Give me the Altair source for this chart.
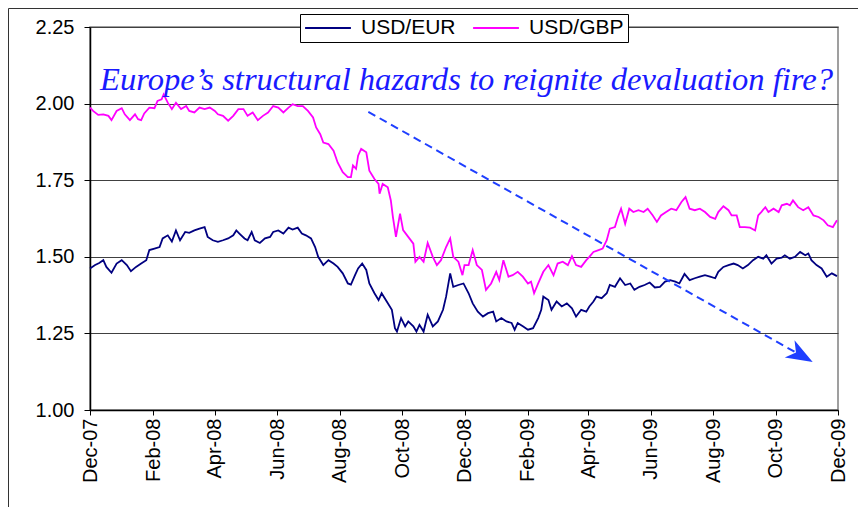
import altair as alt
import pandas as pd

# ---- data (days after 1 Dec 2007, rate) ----
eur_days = [0, 5, 9, 13, 16, 21, 26, 31, 36, 40, 45, 50, 55, 58, 63, 68, 71, 76, 80, 84, 88, 93, 97, 102, 107, 112, 115, 120,
            125, 130, 135, 140, 143, 146, 151, 154, 158, 161, 166, 171, 176, 179, 184, 189, 194, 198, 203, 207, 211, 216, 220, 223, 228, 233, 238, 242,
            247, 252, 255, 259, 262, 266, 270, 273, 278, 282, 285, 290, 295, 298, 300, 304, 308, 311, 316, 319, 322, 326, 330, 335, 340, 345, 348, 352, 355, 360, 365,
            370, 374, 379, 384, 389, 394, 397, 402, 407, 412, 415, 418, 423, 428, 433, 438, 441, 443, 448, 451, 456, 461, 466, 471, 475, 480, 485, 488,
            492, 495, 500, 505, 508, 513, 518, 523, 528, 532, 537, 542, 547, 552, 557, 562, 567, 572, 576, 581, 586, 591, 596, 601, 606, 611,
            614, 619, 624, 629, 633, 638, 643, 648, 653, 658, 661, 666, 671, 676, 679, 684, 689, 694, 699, 702, 705, 710, 715, 720, 725, 730]
eur_vals = [1.462, 1.473, 1.480, 1.489, 1.467, 1.448, 1.478, 1.489, 1.473, 1.453, 1.467, 1.478, 1.489, 1.522, 1.527, 1.532, 1.560, 1.570, 1.550, 1.586, 1.554, 1.581, 1.578, 1.586, 1.592, 1.597, 1.565, 1.554,
            1.549, 1.554, 1.560, 1.570, 1.586, 1.576, 1.560, 1.554, 1.581, 1.554, 1.545, 1.560, 1.565, 1.581, 1.586, 1.576, 1.595, 1.589, 1.595, 1.576, 1.570, 1.560, 1.532, 1.500, 1.473, 1.489, 1.478, 1.467,
            1.446, 1.413, 1.409, 1.440, 1.462, 1.478, 1.457, 1.413, 1.381, 1.359, 1.381, 1.354, 1.327, 1.267, 1.256, 1.300, 1.273, 1.289, 1.273, 1.256, 1.278, 1.256, 1.311, 1.273, 1.289, 1.327, 1.370, 1.446, 1.402, 1.408, 1.413,
            1.381, 1.348, 1.321, 1.305, 1.316, 1.321, 1.289, 1.300, 1.289, 1.284, 1.262, 1.284, 1.273, 1.262, 1.267, 1.300, 1.327, 1.370, 1.359, 1.327, 1.354, 1.338, 1.348, 1.332, 1.305, 1.327, 1.321, 1.338,
            1.354, 1.370, 1.365, 1.381, 1.408, 1.402, 1.430, 1.408, 1.413, 1.392, 1.402, 1.408, 1.416, 1.400, 1.402, 1.419, 1.424, 1.419, 1.413, 1.444, 1.424, 1.430, 1.435, 1.440, 1.435, 1.430,
            1.451, 1.467, 1.473, 1.478, 1.473, 1.462, 1.473, 1.489, 1.500, 1.494, 1.505, 1.478, 1.494, 1.497, 1.505, 1.494, 1.500, 1.516, 1.505, 1.511, 1.489, 1.473, 1.462, 1.435, 1.446, 1.437]

gbp_days = [0, 3, 8, 13, 18, 21, 26, 31, 34, 39, 44, 47, 50, 53, 58, 63, 66, 70, 72, 76, 80, 84, 89, 94, 97, 102, 107, 112, 117, 122,
            125, 130, 135, 140, 145, 150, 154, 159, 164, 169, 174, 179, 184, 189, 194, 198, 203, 208, 213, 218, 221, 225, 228, 233, 238, 242,
            247, 252, 255, 257, 260, 262, 265, 270, 273, 278, 282, 283, 286, 291, 294, 296, 299, 303, 306, 311, 316, 318, 322, 326, 330, 335, 339, 343, 348, 352, 355, 360, 364, 366,
            370, 374, 378, 383, 387, 392, 397, 400, 404, 409, 413, 418, 423, 428, 431, 434, 438, 443, 448, 453, 457, 462, 467, 471, 475, 480, 485, 488,
            492, 497, 501, 505, 508, 513, 516, 519, 523, 527, 531, 536, 541, 545, 550, 554, 558, 563, 568, 573, 578, 582, 586, 591, 596, 601, 606, 611,
            614, 619, 624, 627, 632, 635, 640, 645, 650, 653, 656, 660, 663, 668, 673, 676, 681, 684, 687, 692, 697, 702, 707, 712, 717, 721, 726, 730]
gbp_vals = [1.987, 1.976, 1.963, 1.965, 1.960, 1.946, 1.976, 1.985, 1.965, 1.946, 1.965, 1.949, 1.946, 1.968, 1.987, 1.985, 2.009, 2.014, 2.030, 2.003, 1.982, 2.003, 1.982, 1.992, 1.976, 1.971, 1.987, 1.982, 1.987, 1.976,
            1.965, 1.960, 1.944, 1.960, 1.982, 1.982, 1.960, 1.971, 1.946, 1.960, 1.971, 1.992, 1.987, 1.971, 1.987, 1.998, 1.992, 1.992, 1.976, 1.955, 1.922, 1.900, 1.873, 1.868, 1.846, 1.808,
            1.776, 1.760, 1.760, 1.798, 1.787, 1.830, 1.852, 1.841, 1.781, 1.754, 1.738, 1.706, 1.738, 1.727, 1.684, 1.630, 1.565, 1.641, 1.587, 1.565, 1.543, 1.484, 1.500, 1.484, 1.545, 1.500, 1.473, 1.489, 1.532, 1.560, 1.500, 1.484, 1.440, 1.473,
            1.473, 1.522, 1.473, 1.457, 1.392, 1.413, 1.451, 1.424, 1.489, 1.435, 1.440, 1.451, 1.435, 1.413, 1.419, 1.381, 1.413, 1.451, 1.473, 1.440, 1.478, 1.484, 1.473, 1.502, 1.473, 1.467, 1.489, 1.500,
            1.516, 1.522, 1.527, 1.554, 1.592, 1.597, 1.630, 1.657, 1.608, 1.657, 1.646, 1.652, 1.646, 1.657, 1.635, 1.614, 1.635, 1.646, 1.657, 1.652, 1.679, 1.695, 1.657, 1.652, 1.657, 1.646, 1.630, 1.624,
            1.646, 1.665, 1.652, 1.635, 1.635, 1.597, 1.597, 1.595, 1.586, 1.635, 1.646, 1.662, 1.646, 1.657, 1.646, 1.668, 1.673, 1.668, 1.684, 1.662, 1.652, 1.662, 1.635, 1.630, 1.619, 1.603, 1.597, 1.619]

series_names = ["USD/EUR", "USD/GBP"]
series_colors = ["#000080", "#FF00FF"]

tick_values = [(2007, 12), (2008, 2), (2008, 4), (2008, 6), (2008, 8), (2008, 10), (2008, 12),
               (2009, 2), (2009, 4), (2009, 6), (2009, 8), (2009, 10), (2009, 12)]
y_ticks = [1.00, 1.25, 1.50, 1.75, 2.00, 2.25]

headline = "Europe\u2019s structural hazards to reignite devaluation fire?"
# annotation arrow (start / end in data terms: days, rate)
arrow_days = [272, 695]
arrow_vals = [1.973, 1.178]

start = pd.Timestamp("2007-12-01")


def to_dates(days):
    return [(start + pd.Timedelta(days=d)).strftime("%Y-%m-%dT00:00:00") for d in days]


df = pd.concat([
    pd.DataFrame({"date": to_dates(eur_days), "rate": eur_vals, "series": series_names[0]}),
    pd.DataFrame({"date": to_dates(gbp_days), "rate": gbp_vals, "series": series_names[1]}),
])

arrow_dates = to_dates(arrow_days)
arrow_df = pd.DataFrame({"d1": [arrow_dates[0]], "v1": [arrow_vals[0]],
                         "d2": [arrow_dates[1]], "v2": [arrow_vals[1]]})
head_df = pd.DataFrame({"d": [arrow_dates[1]], "v": [arrow_vals[1]]})

FONT = "Liberation Sans"
x_scale = alt.Scale(domain=[alt.DateTime(year=2007, month=12, date=1),
                            alt.DateTime(year=2009, month=12, date=1)])
y_scale = alt.Scale(domain=[1.0, 2.25], nice=False, zero=False)

x_axis = alt.Axis(values=[alt.DateTime(year=y, month=m, date=1) for y, m in tick_values],
                  format="%b-%y", labelAngle=270, labelFont=FONT, labelFontSize=20,
                  labelColor="black", tickColor="black", tickSize=5, labelPadding=3,
                  domainColor="black", domainWidth=1.5, grid=False, title=None)
y_axis = alt.Axis(values=y_ticks, format=".2f", labelFont=FONT, labelFontSize=20,
                  labelColor="black", tickColor="black", tickSize=6, labelPadding=10,
                  domainColor="black", domainWidth=1.5, grid=True, gridColor="#404040",
                  gridWidth=1, title=None)

lines = alt.Chart(df).mark_line(strokeWidth=1.8).encode(
    x=alt.X("date:T", scale=x_scale, axis=x_axis),
    y=alt.Y("rate:Q", scale=y_scale, axis=y_axis),
    color=alt.Color("series:N",
                    scale=alt.Scale(domain=series_names, range=series_colors),
                    legend=alt.Legend(orient="none", legendX=210, legendY=-13,
                                      direction="horizontal", title=None,
                                      symbolType="stroke", symbolSize=2100,
                                      symbolStrokeWidth=2, labelFont=FONT,
                                      labelFontSize=21, labelColor="black",
                                      strokeColor="black", fillColor="white",
                                      padding=4, columnPadding=16, labelOffset=9,
                                      clipHeight=20)),
)

arrow = alt.Chart(arrow_df).mark_rule(color="#1f3fff", strokeWidth=2, strokeDash=[8, 5]).encode(
    x="d1:T", y="v1:Q", x2="d2:T", y2="v2:Q")

head = alt.Chart(head_df).mark_point(
    shape="M1,0L-1,-0.75L-0.45,0L-1,0.75Z", filled=True, color="#1f3fff",
    size=700, angle=29.4, opacity=1).encode(x="d:T", y="v:Q")

text = alt.Chart(pd.DataFrame({"t": [headline]})).mark_text(
    align="left", baseline="alphabetic", font="Liberation Serif", fontStyle="italic",
    fontSize=32.6, color="#1a1aff").encode(text="t:N", x=alt.value(10), y=alt.value(63))

frame_left = alt.Chart(pd.DataFrame({"a": [0]})).mark_rule(color="#333333", strokeWidth=1).encode(
    x=alt.value(-81.5), y=alt.value(-18.5), y2=alt.value(480))
frame_top = alt.Chart(pd.DataFrame({"a": [0]})).mark_rule(color="#333333", strokeWidth=1).encode(
    x=alt.value(-81.5), x2=alt.value(770), y=alt.value(-18.5))

chart = alt.layer(lines, arrow, head, text, frame_left, frame_top).properties(
    width=748, height=383,
    padding={"left": 82, "top": 19, "right": 20, "bottom": 98},
    autosize=alt.AutoSizeParams(type="none"),
    background="white",
).configure_view(stroke="#808080", strokeWidth=1.5)

chart.save("out.html", embed_options={"renderer": "svg", "actions": False})
